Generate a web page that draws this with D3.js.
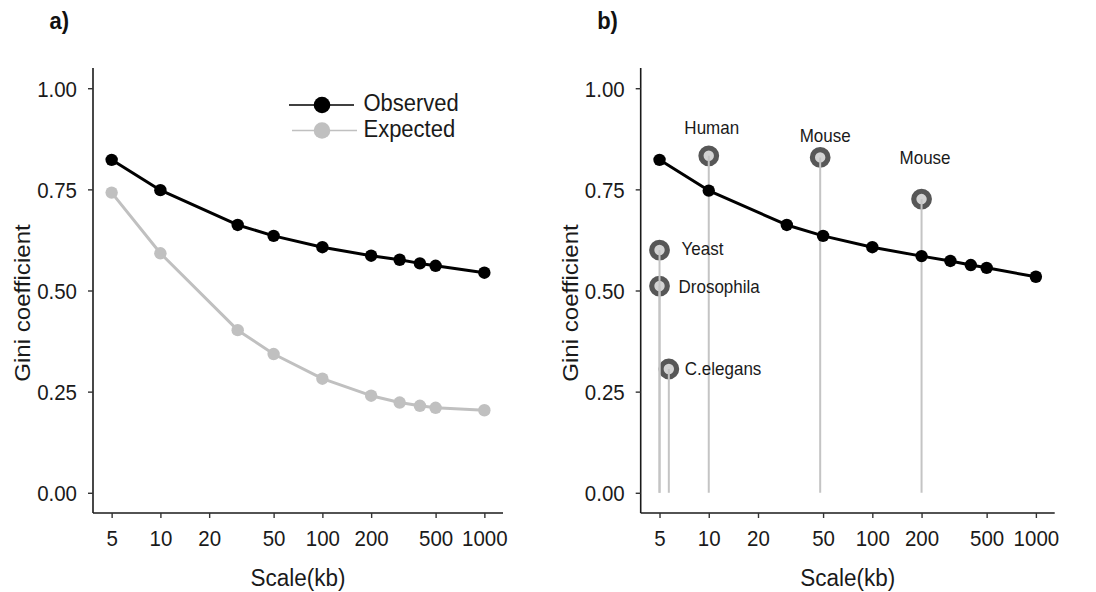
<!DOCTYPE html>
<html><head><meta charset="utf-8">
<script src="https://cdn.jsdelivr.net/npm/d3@7"></script>
<style>
body{margin:0;background:#fff;}
svg{display:block;font-family:"Liberation Sans",Arial,sans-serif;}
text.vs{transform-box:fill-box;transform-origin:center;transform:scaleY(1.1);}
text.hs{transform-box:fill-box;transform-origin:center;transform:scaleX(1.07);}
</style></head>
<body>
<svg id="chart" width="1096" height="592"></svg>
<script>
// ---- data ----
const scales = [5, 10, 30, 50, 100, 200, 300, 400, 500, 1000];
const observedA = [0.823, 0.748, 0.662, 0.635, 0.607, 0.586, 0.576, 0.567, 0.561, 0.544];
const expectedA = [0.742, 0.592, 0.402, 0.343, 0.282, 0.240, 0.223, 0.215, 0.210, 0.204];
const observedB = [0.823, 0.747, 0.662, 0.635, 0.607, 0.585, 0.573, 0.563, 0.556, 0.534];
const species = ["Human", "Mouse", "Mouse", "Yeast", "Drosophila", "C.elegans"];
const speciesScale = [10, 48, 200, 5, 5, 5.7];
const speciesGini = [0.833, 0.829, 0.726, 0.600, 0.511, 0.306];
const xTicks = [5, 10, 20, 50, 100, 200, 500, 1000];
const yTicks = [0, 0.25, 0.5, 0.75, 1.0];
const seriesNames = ["Observed", "Expected"];

// ---- layout ----
const svg = d3.select("#chart");
const FONT = '"Liberation Sans",Arial,sans-serif';
const lspan = Math.log10(1000) - Math.log10(5);
const xDomain = [Math.pow(10, Math.log10(5) - 0.05 * lspan), Math.pow(10, Math.log10(1000) + 0.05 * lspan)];
const yDomain = [-0.05, 1.05];
const plotTop = 68, plotBottom = 513;

function panel(x0, x1, label, titleX) {
  const x = d3.scaleLog().domain(xDomain).range([x0, x1]);
  const y = d3.scaleLinear().domain(yDomain).range([plotBottom, plotTop]);
  const g = svg.append("g");
  const xa = g.append("g").attr("transform", `translate(0,${plotBottom})`)
    .call(d3.axisBottom(x).tickValues(xTicks).tickFormat(d3.format("d")).tickSizeOuter(0).tickSize(5).tickPadding(13));
  const ya = g.append("g").attr("transform", `translate(${x0},0)`)
    .call(d3.axisLeft(y).tickValues(yTicks).tickFormat(d3.format(".2f")).tickSizeOuter(0).tickSize(5).tickPadding(11));
  [xa, ya].forEach(a => {
    a.select(".domain").attr("stroke", "#1a1a1a").attr("stroke-width", 1.6);
    a.selectAll(".tick line").attr("stroke", "#333").attr("stroke-width", 1.4);
    a.selectAll(".tick text").attr("class", "vs").attr("fill", "#1a1a1a")
      .style("font-size", "20.5px").style("font-family", FONT);
  });
  xa.select(".domain").attr("d", `M${x0},0H${x1}`);
  ya.select(".domain").attr("d", `M0,${plotTop}V${plotBottom}`);
  ya.selectAll(".tick text").attr("dy", "0.36em");
  xa.selectAll(".tick text").attr("dy", "0.71em");

  g.append("text").attr("class", "vs").attr("x", (x0 + x1) / 2).attr("y", 578).attr("text-anchor", "middle")
    .attr("dominant-baseline", "central").style("font-size", "22.5px").attr("fill", "#1a1a1a").text("Scale(kb)");
  g.append("g").attr("transform", `translate(${titleX},303) rotate(-90)`)
    .append("text").attr("class", "hs").attr("text-anchor", "middle")
    .attr("dominant-baseline", "central").style("font-size", "22.5px").attr("fill", "#1a1a1a").text("Gini coefficient");
  g.append("text").attr("class", "vs").attr("x", x0 - 43.5).attr("y", 28.5).style("font-size", "22px").style("font-weight", "bold")
    .attr("fill", "#111").text(label);
  return {g, x, y};
}

function series(p, vals, color, r) {
  const data = scales.map((s, i) => [s, vals[i]]);
  p.g.append("path").datum(data)
    .attr("d", d3.line().x(d => p.x(d[0])).y(d => p.y(d[1])))
    .attr("fill", "none").attr("stroke", color).attr("stroke-width", 3).attr("stroke-linejoin", "round");
  p.g.selectAll(null).data(data).enter().append("circle")
    .attr("cx", d => p.x(d[0])).attr("cy", d => p.y(d[1])).attr("r", r).attr("fill", color);
}

// ---- panel a ----
const pa = panel(93, 503, "a)", 22);
series(pa, expectedA, "#c0c0c0", 6.2);
series(pa, observedA, "#000", 6.2);

const legColors = ["#000", "#c0c0c0"];
const legY = [105, 130.5];
const legLine = [[289, 354], [292, 357]];
seriesNames.forEach((n, i) => {
  const lg = pa.g.append("g");
  lg.append("line").attr("x1", legLine[i][0]).attr("x2", legLine[i][1]).attr("y1", legY[i]).attr("y2", legY[i])
    .attr("stroke", legColors[i]).attr("stroke-width", 1.6);
  lg.append("circle").attr("cx", 322).attr("cy", legY[i]).attr("r", 8.3).attr("fill", legColors[i]);
  lg.append("text").attr("class", "vs").attr("x", 363.5).attr("y", legY[i] - 2).attr("dominant-baseline", "central")
    .style("font-size", "22px").attr("fill", "#1a1a1a").text(n);
});

// ---- panel b ----
const pb = panel(640.7, 1054.7, "b)", 570.5);
const spData = species.map((s, i) => ({name: s, scale: speciesScale[i], gini: speciesGini[i]}));
pb.g.selectAll(null).data(spData).enter().append("circle")
  .attr("cx", d => pb.x(d.scale)).attr("cy", d => pb.y(d.gini)).attr("r", 7.8)
  .attr("fill", "#d3d3d3").attr("stroke", "#575757").attr("stroke-width", 5.2);
pb.g.selectAll(null).data(spData).enter().append("line")
  .attr("x1", d => pb.x(d.scale)).attr("x2", d => pb.x(d.scale))
  .attr("y1", d => pb.y(d.gini)).attr("y2", pb.y(0))
  .attr("stroke", "#c4c4c4").attr("stroke-width", 2);
series(pb, observedB, "#000", 6.2);
const labelPlace = [[3, -28, "middle"], [5, -22, "middle"], [3.5, -41, "middle"],
                    [22, -1, "start"], [19, 1, "start"], [16, 0, "start"]];
pb.g.selectAll(null).data(spData).enter().append("text")
  .attr("class", "vs")
  .attr("x", (d, i) => pb.x(d.scale) + labelPlace[i][0])
  .attr("y", (d, i) => pb.y(d.gini) + labelPlace[i][1])
  .attr("text-anchor", (d, i) => labelPlace[i][2])
  .attr("dominant-baseline", "central")
  .style("font-size", "17px").attr("fill", "#1a1a1a").text(d => d.name);
</script>
</body></html>
